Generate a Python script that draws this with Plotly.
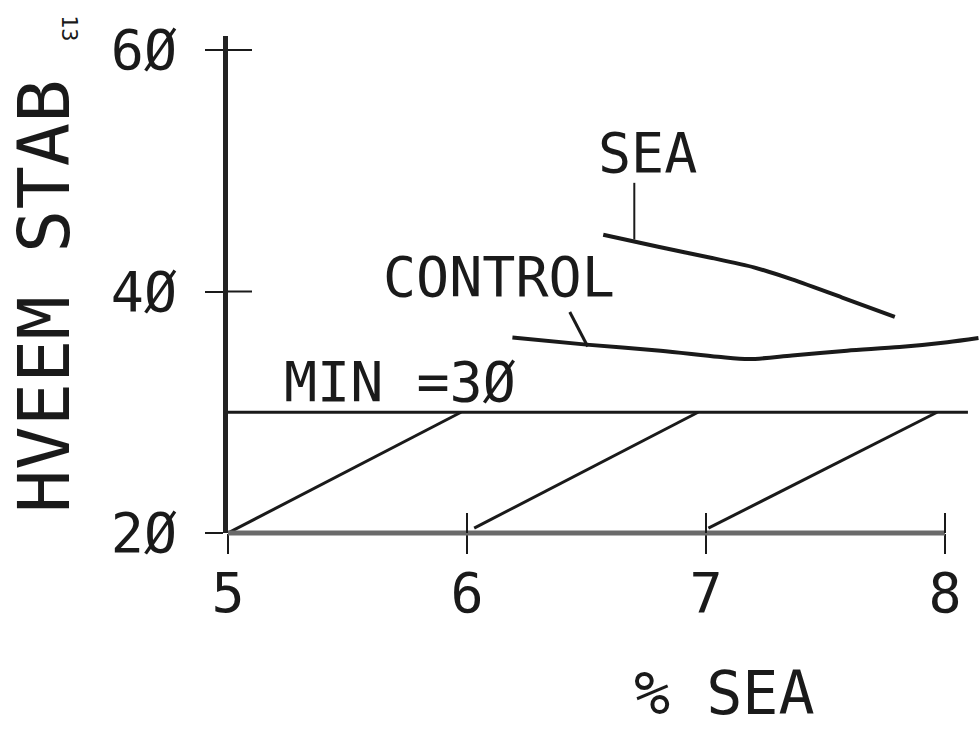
import plotly.graph_objects as go

# Hveem stability against percent SEA
sea_pct = [6.57, 6.80, 7.02, 7.20, 7.36, 7.57, 7.79]
sea_stab = [44.7, 43.7, 42.8, 42.0, 41.0, 39.5, 37.9]

control_pct = [6.19, 6.50, 6.81, 7.05, 7.18, 7.36, 7.59, 7.81, 8.01, 8.14]
control_stab = [36.2, 35.6, 35.1, 34.6, 34.4, 34.7, 35.1, 35.4, 35.8, 36.15]

min_stab = 30
min_pct = [5.0, 8.096]

# hatching strokes in the band below the minimum
hatch_start = [5.0, 6.03, 7.01]
hatch_end = [5.975, 6.967, 7.967]
hatch_base = [20.0, 20.4, 20.4]

x_ticks = [5, 6, 7, 8]
x_labels = ["5", "6", "7", "8"]
y_ticks = [20, 40, 60]
y_labels = ["2Ø", "4Ø", "6Ø"]

# plot-area geometry (pixels)
W, H = 980, 733
L, R, T, B = 228, 0, 36, 200
PW, PH = W - L - R, H - T - B


def px(xp):
    return (xp - L) / PW


def py(yp):
    return (H - B - yp) / PH


FONT = "DejaVu Sans Mono"
INK = "#1a1a1a"

fig = go.Figure()

fig.add_trace(go.Scatter(x=min_pct, y=[min_stab, min_stab], mode="lines",
                         line=dict(color=INK, width=3), hoverinfo="skip"))

for x0, x1, y0 in zip(hatch_start, hatch_end, hatch_base):
    fig.add_trace(go.Scatter(x=[x0, x1], y=[y0, min_stab], mode="lines",
                             line=dict(color=INK, width=3), hoverinfo="skip"))

fig.add_trace(go.Scatter(x=sea_pct, y=sea_stab, mode="lines", name="SEA",
                         line=dict(color=INK, width=4, shape="spline", smoothing=0.6)))
fig.add_trace(go.Scatter(x=control_pct, y=control_stab, mode="lines", name="CONTROL",
                         line=dict(color=INK, width=4, shape="spline", smoothing=0.8)))

shapes = [
    # bottom axis, from 5 to 8
    dict(type="line", xref="x", yref="paper", x0=5, x1=8, y0=0, y1=0,
         line=dict(color="#6a6a6a", width=5), layer="above"),
    # label leaders
    dict(type="line", xref="x", yref="y", x0=6.70, x1=6.70, y0=49.0, y1=44.3,
         line=dict(color=INK, width=2)),
    dict(type="line", xref="x", yref="y", x0=6.43, x1=6.505, y0=38.3, y1=35.45,
         line=dict(color=INK, width=3)),
]
# inner halves of the crossing tick marks
for xv in x_ticks[1:]:
    shapes.append(dict(type="line", xref="x", yref="paper", x0=xv, x1=xv,
                       y0=0, y1=20 / PH, line=dict(color=INK, width=2)))
for yv in y_ticks[1:]:
    shapes.append(dict(type="line", xref="paper", yref="y", x0=0, x1=24 / PW,
                       y0=yv, y1=yv, line=dict(color=INK, width=2)))


def label(text, x, y, size, xref="paper", yref="paper", angle=0, xanchor="center"):
    return dict(text=text, x=x, y=y, xref=xref, yref=yref, textangle=angle,
                xanchor=xanchor, yanchor="middle", showarrow=False,
                font=dict(family=FONT, size=size, color=INK))


annotations = [
    label("SEA", 6.54, 51.5, 55, "x", "y", xanchor="left"),
    label("CONTROL", 5.64, 41.2, 55, "x", "y", xanchor="left"),
    label("MIN =3Ø", 5.225, 32.5, 55, "x", "y", xanchor="left"),
    label("HVEEM STAB", px(44), py(297), 72, angle=-90),
    label("% SEA", px(724), py(693), 60),
    label("13", px(69), py(28), 22, angle=90),
]

fig.update_layout(
    width=W, height=H, autosize=False,
    margin=dict(l=L, r=R, t=T, b=B, pad=0),
    paper_bgcolor="white", plot_bgcolor="white",
    showlegend=False,
    shapes=shapes, annotations=annotations,
    xaxis=dict(range=[5, 5 + PW / 239.0], showgrid=False, zeroline=False, showline=False,
               tickvals=x_ticks, ticktext=x_labels, ticks="outside", ticklen=20,
               tickwidth=2, tickcolor=INK, ticklabelstandoff=-8,
               tickfont=dict(family=FONT, size=55, color=INK)),
    yaxis=dict(range=[20, 20 + PH / 12.075], showgrid=False, zeroline=False,
               showline=True, linewidth=5, linecolor="#222222",
               tickvals=y_ticks, ticktext=y_labels, ticks="outside", ticklen=18,
               tickwidth=2, tickcolor=INK, ticklabelstandoff=17,
               tickfont=dict(family=FONT, size=55, color=INK)),
)

fig.write_html("out.html")
